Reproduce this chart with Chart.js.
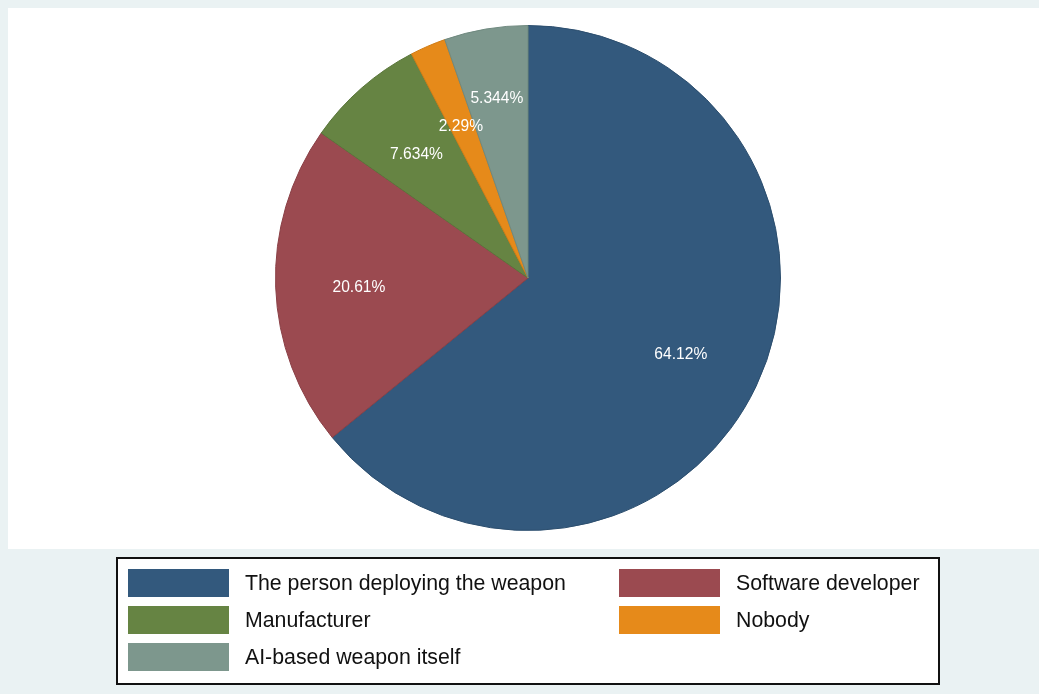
<!DOCTYPE html>
<html>
<head>
<meta charset="utf-8">
<script src="https://cdn.jsdelivr.net/npm/chart.js@4.4.1/dist/chart.umd.min.js"></script>
<style>
  html, body { margin: 0; padding: 0; background: #EAF2F3; }
  #wrap { position: relative; width: 1039px; height: 694px; }
</style>
</head>
<body>
<div id="wrap"><canvas id="c" width="1039" height="694"></canvas></div>
<script>
const categories = [
  "The person deploying the weapon",
  "Software developer",
  "Manufacturer",
  "Nobody",
  "AI-based weapon itself"
];
const shares = [64.12, 20.61, 7.634, 2.29, 5.344];
const colors = ["#33597D", "#9B4A50", "#668443", "#E68A1A", "#7D978D"];
const borders = ["#2C4E6E", "#8A4046", "#5A763A", "#D17D16", "#6F897F"];

function fmt(v) {
  let s = v.toPrecision(4);
  if (s.indexOf('.') >= 0) s = s.replace(/0+$/, '').replace(/\.$/, '');
  return s + '%';
}

const bgPlugin = {
  id: 'bg',
  beforeDraw(chart) {
    const ctx = chart.ctx;
    ctx.save();
    ctx.fillStyle = '#EAF2F3';
    ctx.fillRect(0, 0, chart.width, chart.height);
    ctx.fillStyle = '#FFFFFF';
    ctx.fillRect(8, 8, chart.width - 8, 541);
    ctx.restore();
  }
};

const labelPlugin = {
  id: 'sliceLabels',
  afterDatasetsDraw(chart) {
    const ctx = chart.ctx;
    const meta = chart.getDatasetMeta(0);
    ctx.save();
    ctx.fillStyle = '#FFFFFF';
    ctx.font = '15.6px "Liberation Sans", Arial, sans-serif';
    ctx.textAlign = 'center';
    ctx.textBaseline = 'middle';
    const placed = [];
    const h = 16, gap = 12;
    meta.data.forEach((arc, i) => {
      const p = arc.getProps(['x', 'y', 'startAngle', 'endAngle', 'outerRadius'], true);
      const mid = (p.startAngle + p.endAngle) / 2;
      const txt = fmt(chart.data.datasets[0].data[i]);
      const w = ctx.measureText(txt).width;
      let r = p.outerRadius * 0.67;
      let x, y;
      const collides = () => placed.some(b =>
        Math.abs(b.x - x) < (b.w + w) / 2 && Math.abs(b.y - y) < h + gap);
      for (let k = 0; k < 200; k++) {
        x = p.x + Math.cos(mid) * r;
        y = p.y + Math.sin(mid) * r + 4;
        if (!collides()) break;
        r += 1;
      }
      placed.push({ x, y, w });
      ctx.fillText(txt, x, y);
    });
    ctx.restore();
  }
};

const legendPlugin = {
  id: 'boxLegend',
  afterDraw(chart) {
    const ctx = chart.ctx;
    ctx.save();
    ctx.fillStyle = '#FFFFFF';
    ctx.fillRect(117, 558, 822, 126);
    ctx.strokeStyle = '#111111';
    ctx.lineWidth = 2;
    ctx.strokeRect(117, 558, 822, 126);
    const colX = [128, 619];
    const rowY = [569, 606, 643];
    ctx.font = '21.3px "Liberation Sans", Arial, sans-serif';
    ctx.textBaseline = 'middle';
    ctx.textAlign = 'left';
    chart.data.labels.forEach((lab, i) => {
      const cx = colX[i % 2];
      const cy = rowY[Math.floor(i / 2)];
      ctx.fillStyle = chart.data.datasets[0].backgroundColor[i];
      ctx.fillRect(cx, cy, 101, 28);
      ctx.fillStyle = '#111111';
      ctx.fillText(lab, cx + 117, cy + 15);
    });
    ctx.restore();
  }
};

new Chart(document.getElementById('c'), {
  type: 'pie',
  data: {
    labels: categories,
    datasets: [{
      data: shares,
      backgroundColor: colors,
      borderColor: borders,
      borderWidth: 1
    }]
  },
  options: {
    responsive: false,
    animation: false,
    layout: { padding: { top: 25, bottom: 163, left: 17, right: 0 } },
    plugins: {
      legend: { display: false },
      tooltip: { enabled: false },
      title: { display: false }
    }
  },
  plugins: [bgPlugin, labelPlugin, legendPlugin]
});
</script>
</body>
</html>
